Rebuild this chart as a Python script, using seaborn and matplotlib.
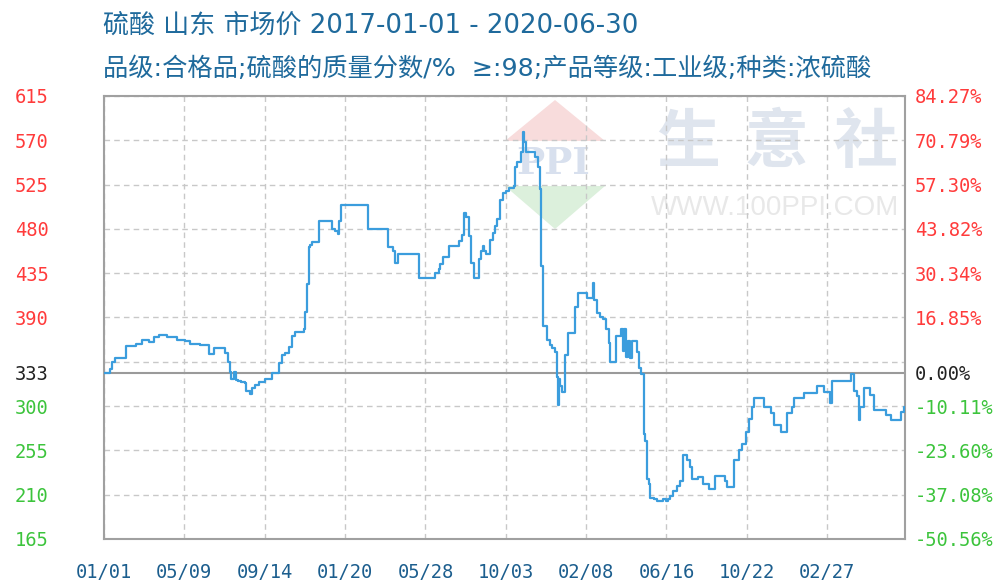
import numpy as np
import pandas as pd
import matplotlib
matplotlib.use("Agg")
import matplotlib.pyplot as plt
import seaborn as sns
from matplotlib.patches import Polygon

# ---------------- data ----------------
title_line1 = "硫酸 山东 市场价 2017-01-01 - 2020-06-30"
title_line2 = "品级:合格品;硫酸的质量分数/%  ≥:98;产品等级:工业级;种类:浓硫酸"

start_date = "2017-01-01"
end_date = "2020-06-30"

# day offset (since start_date) at which the price changes, and the new price
change_day = [0, 10, 12, 17, 35, 51, 60, 71, 79, 87, 100, 116, 129, 137, 153, 168, 176, 193, 198, 201,
              203, 207, 210, 214, 219, 225, 227, 233, 235, 241, 247, 256, 267, 278, 283, 288, 294, 299, 304, 319,
              320, 323, 327, 328, 332, 342, 364, 368, 373, 375, 377, 421, 453, 460, 463, 469, 502, 528, 533, 536,
              540, 549, 565, 570, 574, 576, 581, 584, 589, 598, 601, 603, 606, 609, 615, 620, 623, 626, 631, 635,
              640, 645, 653, 655, 658, 665, 667, 668, 669, 673, 686, 691, 694, 696, 700, 706, 710, 714, 719, 721,
              724, 725, 727, 730, 734, 739, 751, 755, 769, 779, 780, 785, 790, 795, 800, 804, 806, 815, 823, 826,
              829, 832, 835, 838, 841, 849, 853, 856, 860, 862, 865, 868, 870, 876, 881, 890, 895, 899, 902, 907,
              913, 918, 923, 929, 934, 937, 947, 955, 963, 974, 990, 992, 1003, 1011, 1016, 1022, 1027, 1032, 1035, 1051,
              1062, 1067, 1078, 1088, 1096, 1099, 1115, 1136, 1147, 1156, 1160, 1190, 1194, 1200, 1202, 1205, 1210, 1220, 1226, 1245,
              1253, 1270, 1274, 1276]
price = [334, 338, 345, 349, 361, 363, 367, 365, 370, 372, 370, 367, 366, 363, 362, 353, 359, 354, 345, 335,
         328, 335, 327, 326, 324, 323, 315, 312, 318, 321, 324, 328, 334, 344, 352, 354, 360, 371, 375, 378,
         396, 424, 462, 464, 467, 488, 480, 478, 475, 488, 504, 480, 462, 458, 445, 455, 430, 435, 439, 444,
         451, 463, 468, 474, 496, 492, 473, 445, 430, 449, 458, 463, 458, 454, 469, 476, 483, 490, 509, 516,
         519, 522, 524, 543, 548, 558, 567, 578, 568, 558, 553, 543, 521, 442, 381, 367, 362, 359, 355, 330,
         301, 328, 320, 314, 352, 374, 401, 415, 410, 425, 408, 395, 390, 388, 378, 364, 345, 371, 378, 356,
         378, 350, 366, 349, 366, 355, 339, 333, 272, 265, 226, 221, 207, 206, 204, 206, 204, 206, 209, 214,
         219, 224, 250, 245, 238, 226, 228, 221, 216, 229, 224, 218, 245, 255, 262, 274, 287, 299, 308, 299,
         293, 281, 274, 293, 299, 308, 313, 320, 314, 303, 325, 333, 315, 310, 286, 299, 318, 311, 296, 291,
         286, 294, 299, 299]

base_price = 333.75
ytick_values = [615, 570, 525, 480, 435, 390, 333.75, 300, 255, 210, 165]
ytick_left_labels = ["615", "570", "525", "480", "435", "390", "333", "300", "255", "210", "165"]
ytick_right_labels = ["84.27%", "70.79%", "57.30%", "43.82%", "30.34%", "16.85%", "0.00%",
                      "-10.11%", "-23.60%", "-37.08%", "-50.56%"]
grid_values = [615, 570, 525, 480, 435, 390, 345, 300, 255, 210, 165]
xtick_dates = ["2017-01-01", "2017-05-09", "2017-09-14", "2018-01-20", "2018-05-28",
               "2018-10-03", "2019-02-08", "2019-06-16", "2019-10-22", "2020-02-27"]
xtick_labels = ["01/01", "05/09", "09/14", "01/20", "05/28", "10/03", "02/08", "06/16", "10/22", "02/27"]

# ---------------- style ----------------
sns.set_theme(style="white")
plt.rcParams["font.family"] = ["Noto Sans CJK SC", "DejaVu Sans"]

W, H = 999, 581
fig = plt.figure(figsize=(W / 100, H / 100), dpi=100)
fig.patch.set_facecolor("white")


def px(x, y):
    return (x / W, 1 - y / H)


L, R, T, B = 104, 905, 96, 539
ax = fig.add_axes([L / W, 1 - B / H, (R - L) / W, (B - T) / H])
ax.set_facecolor("none")

RED = "#ff3b3b"
GREEN = "#3cc43c"
BLACK = "#222222"
BLUE_TXT = "#1f6a9c"
LINE = "#3b9ddd"

# watermark (behind axes)
fig.add_artist(Polygon([px(555, 100), px(605, 141), px(505, 141)], closed=True,
                       transform=fig.transFigure, facecolor="#f8dcdc", edgecolor="none", zorder=-2))
fig.add_artist(Polygon([px(505, 186), px(605, 186), px(555, 229)], closed=True,
                       transform=fig.transFigure, facecolor="#dcf0dc", edgecolor="none", zorder=-2))
fig.text(*px(553, 164), "PPI", fontsize=27, fontweight="bold", family="DejaVu Serif",
         color="#d8e0ee", ha="center", va="center", zorder=-1)
for ch, cx in zip("生意社", [688, 776, 865]):
    fig.text(*px(cx, 143), ch, fontsize=46, fontweight="bold", color="#dfe5ee",
             ha="center", va="center", zorder=-1)
fig.text(*px(775, 208), "WWW.100PPI.COM", fontsize=20, family="Liberation Sans",
         color="#e8e8e8", ha="center", va="center", zorder=-1)

# data frame
dates = pd.to_datetime(start_date) + pd.to_timedelta(change_day, unit="D")
df = pd.DataFrame({"date": dates, "price": price})

dash = (0, (4, 3))
for v in grid_values:
    ax.axhline(v, color="#c8c8c8", lw=1, ls=dash, zorder=1)
for d in pd.to_datetime(xtick_dates):
    ax.axvline(d, color="#c8c8c8", lw=1, ls=dash, zorder=1)
ax.axhline(base_price, color="#9a9a9a", lw=1.5, zorder=2)

sns.lineplot(data=df, x="date", y="price", drawstyle="steps-post", color=LINE,
             lw=1.6, ax=ax, zorder=5)

ax.set_xlim(pd.to_datetime(start_date), pd.to_datetime(end_date))
ax.set_ylim(165, 615)
ax.set_xlabel("")
ax.set_ylabel("")

for s in ax.spines.values():
    s.set_color("#a0a0a0")
    s.set_linewidth(1.5)
    s.set_visible(True)

label_colors = [RED] * 6 + [BLACK] + [GREEN] * 4

ax.set_yticks(ytick_values)
ax.set_yticklabels(ytick_left_labels)
ax.tick_params(axis="y", length=0, pad=40)
for lab, c in zip(ax.get_yticklabels(), label_colors):
    lab.set_color(c)
    lab.set_fontfamily("DejaVu Sans Mono")
    lab.set_fontsize(13.5)

ax.set_xticks(pd.to_datetime(xtick_dates))
ax.set_xticklabels(xtick_labels)
ax.tick_params(axis="x", length=0, pad=17)
for lab in ax.get_xticklabels():
    lab.set_color("#1c5e8e")
    lab.set_fontfamily("DejaVu Sans Mono")
    lab.set_fontsize(13.5)

ax2 = ax.twinx()
ax2.set_facecolor("none")
ax2.set_ylim(165, 615)
ax2.set_yticks(ytick_values)
ax2.set_yticklabels(ytick_right_labels)
ax2.tick_params(axis="y", length=0, pad=7)
ax2.grid(False)
for s in ax2.spines.values():
    s.set_visible(False)
for lab, c in zip(ax2.get_yticklabels(), label_colors):
    lab.set_color(c)
    lab.set_fontfamily("DejaVu Sans Mono")
    lab.set_fontsize(13.5)

# titles (Latin glyphs from DejaVu Sans, CJK falls back to Noto Sans CJK SC)
title_family = ["DejaVu Sans", "Noto Sans CJK SC"]
fig.text(*px(103, 26), title_line1, fontsize=18.7, family=title_family,
         color=BLUE_TXT, ha="left", va="center")
fig.text(*px(103, 69), title_line2, fontsize=18.2, family=title_family,
         color=BLUE_TXT, ha="left", va="center")

fig.savefig("out.png", dpi=100, facecolor="white")
